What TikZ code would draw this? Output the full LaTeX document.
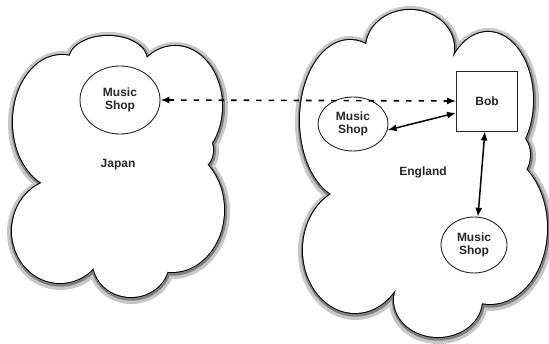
\documentclass[tikz,border=0pt]{standalone}
\usepackage{fontspec}
\setmainfont{Liberation Sans}
\usetikzlibrary{shapes.geometric,arrows.meta}
\newcommand\JapanLobes[1]{\path[#1]
  (62,122) ellipse [x radius=49pt, y radius=67pt]
  (108,60) ellipse [x radius=39pt, y radius=24pt]
  (175,106) ellipse [x radius=47pt, y radius=60pt]
  (172,210) ellipse [x radius=52pt, y radius=62pt]
  (131,262) ellipse [x radius=38pt, y radius=35pt]
  (60,231) ellipse [x radius=48pt, y radius=52pt]
  (200,150) ellipse [x radius=13pt, y radius=18pt];}
\newcommand\EnglandLobes[1]{\path[#1]
  (350,120) ellipse [x radius=50pt, y radius=80pt]
  (410,48) ellipse [x radius=44pt, y radius=38pt]
  (488,100) ellipse [x radius=45pt, y radius=68pt]
  (490,228) ellipse [x radius=57pt, y radius=76pt]
  (438,300) ellipse [x radius=44pt, y radius=37pt]
  (355,250) ellipse [x radius=52pt, y radius=63pt]
  (508,155) ellipse [x radius=22pt, y radius=26pt];}
\tikzset{
  halo/.style={draw=black!22, line width=11pt, shift={(0.5,1.5)}},
  halodark/.style={draw=black!50, line width=5pt, shift={(0.5,1.2)}},
  rim/.style={draw=black, line width=2pt},
  shopel/.style={ellipse, draw=black!85, line width=0.9pt, fill=white, inner sep=0pt, align=center, text=black!85},
  bobbox/.style={rectangle, draw=black!85, line width=0.9pt, fill=white, inner sep=0pt, text=black!85},
  lbl/.style={text=black!85},
  dasharrow/.style={line width=1.6pt, dash pattern=on 5.5pt off 7pt, {Latex[length=9pt,width=7pt]}-{Latex[length=9pt,width=7pt]}},
  solidarrow/.style={line width=1.5pt, {Latex[length=9pt,width=7pt]}-{Latex[length=9pt,width=7pt]}}
}
\begin{document}
\begin{tikzpicture}[x=1pt,y=-1pt, font=\bfseries\fontsize{12}{13.5}\selectfont]
\useasboundingbox (0,0) rectangle (549,344);
\fill[white] (0,0) rectangle (549,344);
% Japan cloud
\JapanLobes{halo}
\JapanLobes{halodark}
\JapanLobes{rim}
\JapanLobes{fill=white}
\fill[white] (45,180) -- (72,62) -- (146,63) -- (200,152) -- (166,264) -- (97,266) -- cycle;
% England cloud
\EnglandLobes{halo}
\EnglandLobes{halodark}
\EnglandLobes{rim}
\EnglandLobes{fill=white}
\fill[white] (334,200) -- (370,56) -- (452,62) -- (515,155) -- (480,295) -- (398,292) -- cycle;
% nodes
\node[shopel, minimum width=80pt, minimum height=68pt] (jshop) at (120,100) {Music\\Shop};
\node[lbl] (japan) at (118,165) {Japan};
\node[bobbox, minimum width=61pt, minimum height=60pt] (bob) at (487,101) {Bob};
\node[shopel, minimum width=70pt, minimum height=54pt] (eshop1) at (353,124) {Music\\Shop};
\node[shopel, minimum width=66pt, minimum height=56pt] (eshop2) at (474,245) {Music\\Shop};
\node[lbl] (england) at (423,172) {England};
% connectors
\draw[dasharrow] (jshop.east) -- (bob.west);
\draw[solidarrow] (bob.201.8) -- (eshop1.-10);
\draw[solidarrow] (bob.-94) -- (eshop2.82);
\end{tikzpicture}
\end{document}
